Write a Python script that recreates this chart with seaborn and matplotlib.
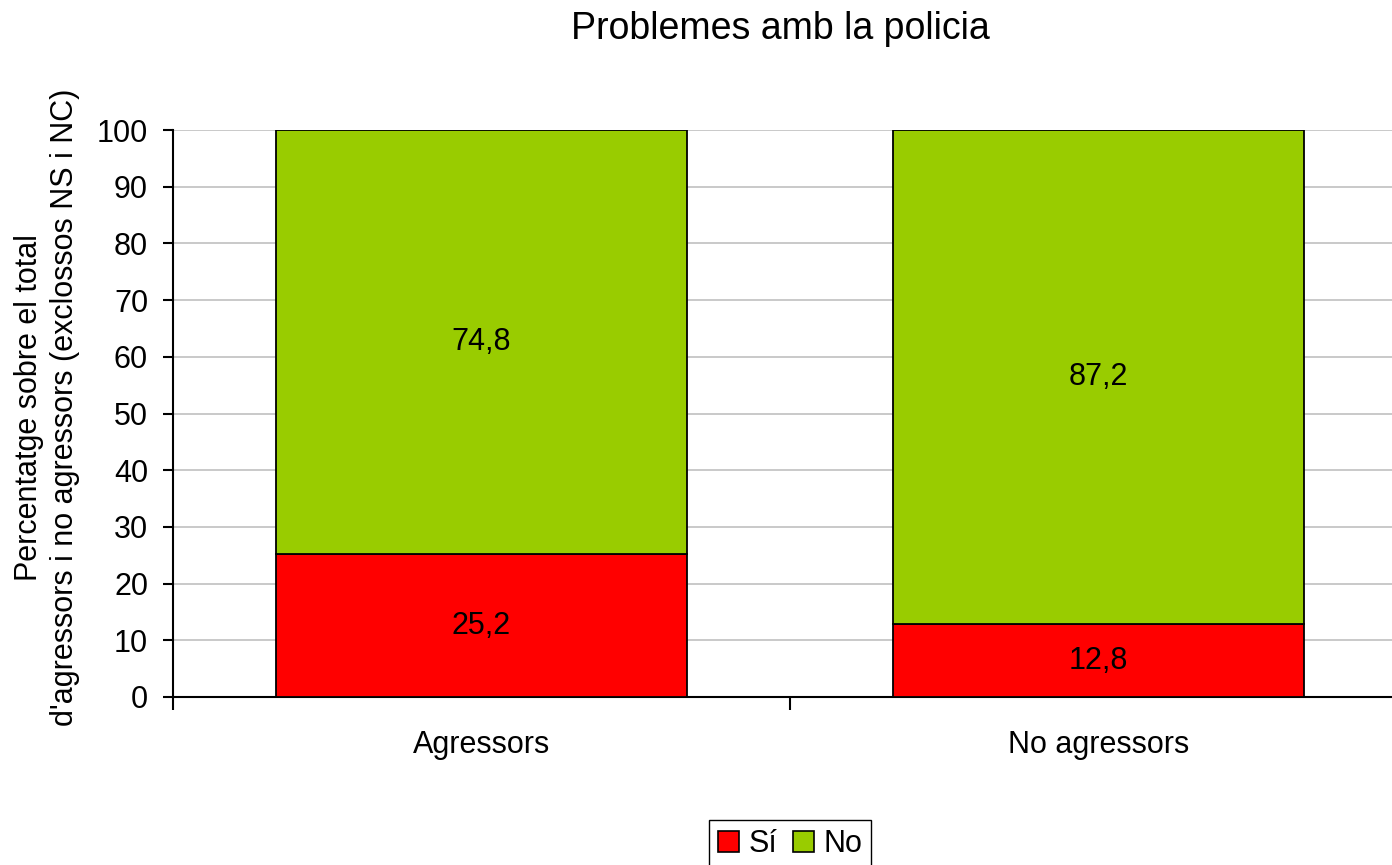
import matplotlib
matplotlib.use("Agg")
import matplotlib.pyplot as plt
from matplotlib.patches import Patch
import pandas as pd
import seaborn as sns

groups = ["Agressors", "No agressors"]
si_vals = [25.2, 12.8]
no_vals = [74.8, 87.2]
series = ["Sí", "No"]
colors = ["#FF0000", "#99CC00"]

sns.set_style("white")
plt.rcParams["font.family"] = ["Liberation Sans", "DejaVu Sans"]
plt.rcParams["text.color"] = "black"
plt.rcParams["axes.labelcolor"] = "black"
plt.rcParams["xtick.color"] = "black"
plt.rcParams["ytick.color"] = "black"

df = pd.DataFrame({"grup": groups, "si": si_vals, "no": no_vals})

fig = plt.figure(figsize=(13.92, 8.65), dpi=100)
ax = fig.add_axes([173 / 1392, (865 - 697) / 865, (1407 - 173) / 1392, (697 - 130) / 865])

sns.barplot(data=df, x="grup", y="si", color=colors[0], width=2 / 3, saturation=1,
            edgecolor="black", linewidth=1.3, ax=ax, zorder=3)
sns.barplot(data=df, x="grup", y="no", color=colors[1], width=2 / 3, saturation=1,
            bottom=df["si"], edgecolor="black", linewidth=1.3, ax=ax, zorder=3)

for i, (s, n) in enumerate(zip(si_vals, no_vals)):
    ax.text(i, s / 2, f"{s:.1f}".replace(".", ","), ha="center", va="center", fontsize=22, zorder=4)
    ax.text(i, s + n / 2, f"{n:.1f}".replace(".", ","), ha="center", va="center", fontsize=22, zorder=4)

ax.set_xlim(-0.5, 1.5)
ax.set_ylim(0, 100)
ax.set_yticks(range(0, 101, 10))
ax.yaxis.grid(True, color="#c0c0c0", linewidth=1.2, zorder=0)

ax.set_xticks([-0.5, 0.5, 1.5])
ax.set_xticklabels([])
ax.set_xticks([0, 1], minor=True)
ax.set_xticklabels(groups, minor=True, fontsize=22)
ax.tick_params(axis="x", which="major", bottom=True, length=9, width=1.5, direction="out")
ax.tick_params(axis="x", which="minor", bottom=True, length=0, pad=24)
ax.tick_params(axis="y", left=True, length=7, width=1.5, direction="out", labelsize=22, pad=11)

for side in ["top", "right"]:
    ax.spines[side].set_visible(False)
for side in ["left", "bottom"]:
    ax.spines[side].set_color("black")
    ax.spines[side].set_linewidth(1.5)

ax.set_xlabel("")
ax.set_ylabel("Percentatge sobre el total\nd'agressors i no agressors (exclossos NS i NC)",
              fontsize=22, linespacing=1.25)
ax.yaxis.set_label_coords(-0.0755, 0.511)
fig.text(780 / 1392, 1 - 29 / 865, "Problemes amb la policia", ha="center", va="center", fontsize=27)

handles = [Patch(facecolor=c, edgecolor="black", linewidth=1.2) for c in colors]
fig.legend(handles, series, loc="center", bbox_to_anchor=(790 / 1392, 1 - 844 / 865),
           ncol=2, fontsize=22, frameon=True, fancybox=False, edgecolor="black",
           handlelength=0.7, handleheight=0.7, handletextpad=0.3, columnspacing=0.5,
           borderpad=0.3, framealpha=1)

fig.savefig("out.png", dpi=100)
